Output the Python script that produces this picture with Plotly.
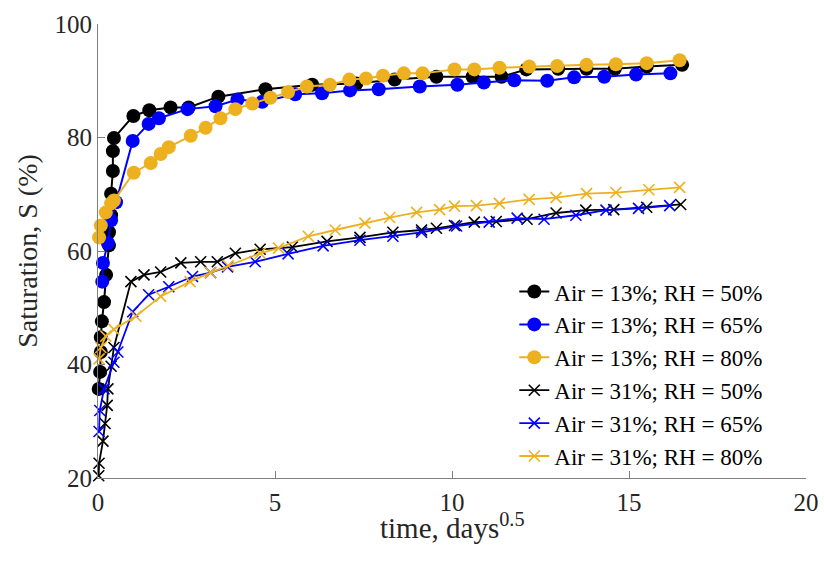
import plotly.graph_objects as go

# Air = 13%; RH = 50%
x_a13_rh50 = [0.02, 0.06, 0.08, 0.08, 0.11, 0.17, 0.23, 0.31, 0.31, 0.37, 0.37, 0.42, 0.42, 0.45, 1.0, 1.45, 2.05, 2.56, 3.4, 4.73, 6.05, 7.3, 8.38, 9.56, 10.58, 11.4, 12.1, 13.0, 13.8, 14.6, 15.5, 16.5]
y_a13_rh50 = [35.7, 38.7, 42.2, 44.8, 47.6, 51.0, 55.8, 61.0, 63.3, 66.3, 70.1, 74.1, 77.6, 79.9, 83.8, 84.8, 85.3, 85.3, 87.2, 88.5, 89.3, 89.5, 90.2, 90.7, 90.7, 90.7, 92.0, 92.1, 92.1, 92.1, 92.5, 92.8]

# Air = 13%; RH = 65%
x_a13_rh65 = [0.12, 0.14, 0.28, 0.37, 0.51, 0.98, 1.43, 1.72, 2.53, 3.32, 3.94, 4.64, 5.57, 6.33, 7.12, 7.93, 9.09, 10.15, 10.9, 11.76, 12.69, 13.45, 14.3, 15.2, 16.17]
y_a13_rh65 = [54.6, 57.9, 61.4, 65.4, 68.6, 79.4, 82.4, 83.4, 85.0, 85.5, 86.7, 86.3, 87.6, 87.8, 88.3, 88.5, 89.0, 89.3, 89.7, 90.1, 90.0, 90.6, 90.7, 91.1, 91.3]

# Air = 13%; RH = 80%
x_a13_rh80 = [0.03, 0.08, 0.22, 0.37, 0.45, 1.01, 1.49, 1.77, 2.0, 2.62, 3.04, 3.46, 3.88, 4.36, 4.87, 5.37, 5.9, 6.55, 7.1, 7.57, 8.05, 8.64, 9.17, 10.07, 10.63, 11.34, 12.18, 12.97, 13.8, 14.63, 15.5, 16.43]
y_a13_rh80 = [62.4, 64.5, 66.8, 68.4, 68.9, 73.8, 75.5, 77.1, 78.3, 80.3, 81.7, 83.4, 85.0, 86.0, 87.0, 88.0, 89.0, 89.3, 90.2, 90.4, 90.9, 91.3, 91.3, 92.0, 92.0, 92.3, 92.5, 92.6, 92.8, 92.9, 93.1, 93.6]

# Air = 31%; RH = 50%
x_a31_rh50 = [0.02, 0.03, 0.14, 0.2, 0.26, 0.28, 0.37, 0.45, 0.93, 1.3, 1.77, 2.34, 2.9, 3.37, 3.88, 4.58, 5.49, 6.47, 7.4, 8.33, 9.14, 9.56, 10.07, 10.63, 11.25, 12.12, 12.94, 13.78, 14.57, 15.5, 16.46]
y_a31_rh50 = [20.4, 22.6, 26.5, 29.6, 32.8, 35.7, 39.7, 43.0, 54.6, 55.8, 56.3, 57.9, 58.1, 58.1, 59.6, 60.3, 60.7, 61.7, 62.4, 63.3, 63.7, 64.0, 64.5, 65.1, 65.2, 65.6, 66.7, 67.2, 67.3, 67.7, 68.2]

# Air = 31%; RH = 65%
x_a31_rh65 = [0.03, 0.05, 0.17, 0.45, 0.56, 0.98, 1.43, 2.0, 2.67, 3.18, 3.66, 4.44, 5.37, 6.36, 7.4, 8.33, 9.14, 10.13, 11.05, 11.84, 12.6, 13.5, 14.35, 15.27, 16.15]
y_a31_rh65 = [28.2, 31.9, 35.7, 40.4, 42.2, 49.3, 52.3, 53.7, 55.5, 56.2, 57.2, 58.1, 59.5, 60.9, 61.9, 62.6, 63.3, 64.4, 65.1, 65.8, 65.6, 66.3, 67.2, 67.5, 68.0]

# Air = 31%; RH = 80%
x_a31_rh80 = [0.03, 0.08, 0.22, 0.45, 1.07, 1.77, 2.6, 3.18, 3.68, 4.58, 5.1, 5.94, 6.7, 7.54, 8.24, 9.0, 9.65, 10.07, 10.69, 11.34, 12.18, 12.94, 13.8, 14.63, 15.56, 16.43]
y_a31_rh80 = [41.0, 43.0, 45.0, 46.2, 48.5, 52.0, 54.6, 56.2, 57.4, 59.6, 60.5, 62.6, 63.7, 64.9, 65.9, 66.8, 67.3, 67.9, 68.0, 68.4, 69.1, 69.4, 70.1, 70.3, 70.8, 71.2]

names = ["Air = 13%; RH = 50%", "Air = 13%; RH = 65%", "Air = 13%; RH = 80%",
         "Air = 31%; RH = 50%", "Air = 31%; RH = 65%", "Air = 31%; RH = 80%"]
xs = [x_a13_rh50, x_a13_rh65, x_a13_rh80, x_a31_rh50, x_a31_rh65, x_a31_rh80]
ys = [y_a13_rh50, y_a13_rh65, y_a13_rh80, y_a31_rh50, y_a31_rh65, y_a31_rh80]
colors = ["#000000", "#0000FF", "#EDB120", "#000000", "#0000FF", "#EDB120"]

x_ticks = [0, 5, 10, 15, 20]
y_ticks = [20, 40, 60, 80, 100]

fig = go.Figure()
for i in range(6):
    if i < 3:
        marker = dict(symbol="circle", size=14, color=colors[i])
        lw = 2
    else:
        marker = dict(symbol="x-thin-open", size=11, line=dict(color=colors[i], width=1.6), color=colors[i])
        lw = 1.8
    fig.add_trace(go.Scatter(
        x=xs[i], y=ys[i], name=names[i], mode="lines+markers",
        line=dict(color=colors[i], width=lw), marker=marker, cliponaxis=False))

serif = "Liberation Serif"
fig.update_layout(
    width=824, height=572,
    margin=dict(l=98, r=18, t=24, b=94, autoexpand=False),
    paper_bgcolor="white", plot_bgcolor="white",
    font=dict(family=serif, size=24, color="#262626"),
    showlegend=True,
    legend=dict(x=0.588, y=0.458, xanchor="left", yanchor="top",
                font=dict(family=serif, size=23, color="#000000"),
                bgcolor="rgba(255,255,255,0)", borderwidth=0,
                tracegroupgap=0),
    xaxis=dict(range=[0, 20], tickvals=x_ticks, ticks="inside", ticklen=7,
               tickcolor="#808080", showline=True, linecolor="#808080", linewidth=1,
               showgrid=False, zeroline=False, mirror=False, automargin=False,
               ticklabelstandoff=2,
               tickfont=dict(family=serif, size=25, color="#262626")),
    yaxis=dict(range=[20, 100], tickvals=y_ticks, ticks="inside", ticklen=7,
               tickcolor="#808080", showline=True, linecolor="#808080", linewidth=1,
               showgrid=False, zeroline=False, mirror=False, automargin=False,
               tickfont=dict(family=serif, size=25, color="#262626"),
               title=dict(text="Saturation, S (%)", font=dict(family=serif, size=28, color="#262626"), standoff=8)),
    annotations=[dict(text="time, days<sup>0.5</sup>", xref="paper", yref="paper",
                      x=0.5, y=-0.106, xanchor="center", yanchor="middle", showarrow=False,
                      font=dict(family=serif, size=29, color="#262626"))],
)

fig.write_html("out.html", config={"displayModeBar": False},
               post_script="document.body.style.margin='0';")
